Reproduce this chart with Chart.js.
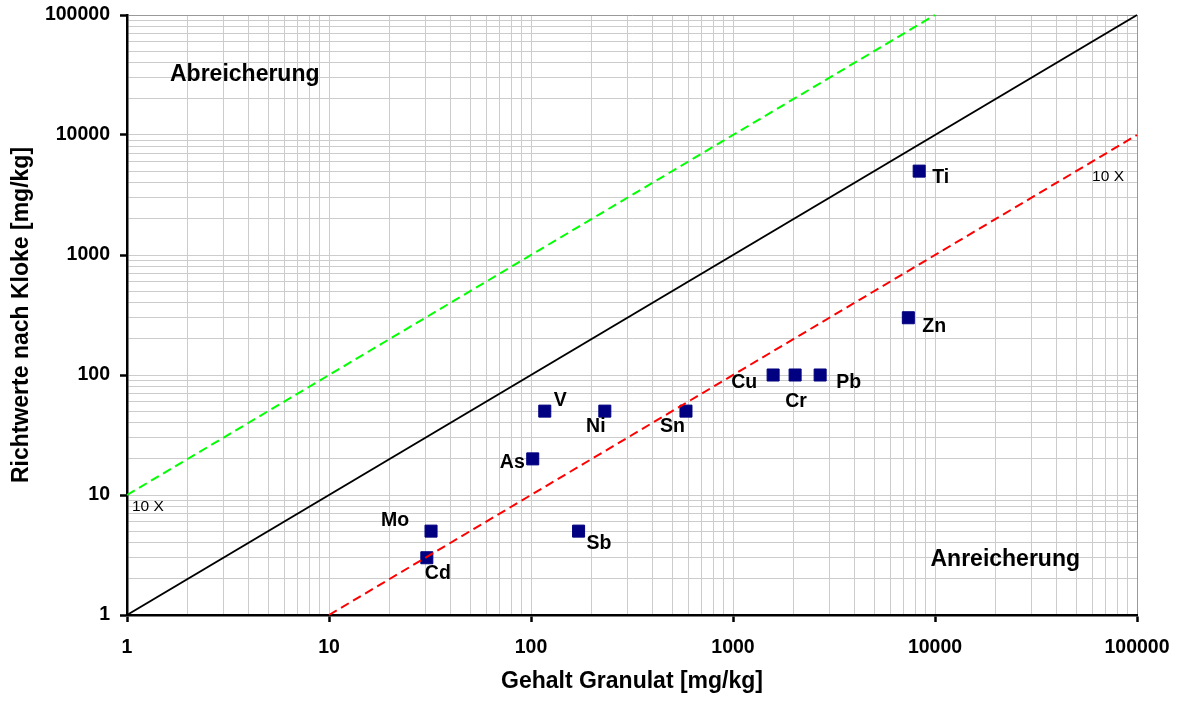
<!DOCTYPE html>
<html>
<head>
<meta charset="utf-8">
<script src="https://cdn.jsdelivr.net/npm/chart.js@4"></script>
<style>
  html, body { margin: 0; padding: 0; background: #fff; }
  #wrap { width: 1179px; height: 701px; }
</style>
</head>
<body>
<div id="wrap"><canvas id="klokeChart" width="1179" height="701"></canvas></div>
<script>
// Elemente: Gehalt im Granulat gegen Richtwerte nach Kloke
const elemente = ["Cd", "Mo", "As", "V", "Sb", "Ni", "Sn", "Cu", "Cr", "Pb", "Zn", "Ti"];
const gehaltGranulat = [30.5, 32, 102, 117, 172, 232, 585, 1580, 2030, 2700, 7380, 8350];
const richtwerteKloke = [3, 5, 20, 50, 5, 50, 50, 100, 100, 100, 300, 5000];

// Dekaden der beiden Achsen
const xTickLabels = ["1", "10", "100", "1000", "10000", "100000"];
const yTickLabels = ["1", "10", "100", "1000", "10000", "100000"];

// Vergleichslinien: 1:1 sowie Faktor 10 nach oben / unten
const linieGleichX = [1, 100000];
const linieGleichY = [1, 100000];
const linieGruenX = [1, 10000];
const linieGruenY = [10, 100000];
const linieRotX = [10, 100000];
const linieRotY = [1, 10000];

const schrift = "'Liberation Sans', Arial, sans-serif";

// Versatz der Elementbeschriftung zum Marker [dx, dy, Ausrichtung]
const labelPos = {
  Cd: [-2, 16, "left"],
  Mo: [-22, -10, "right"],
  As: [-8, 4, "right"],
  V: [9, -10, "left"],
  Sb: [8, 13, "left"],
  Ni: [-9, 16, "center"],
  Sn: [-1, 16, "right"],
  Cu: [-16, 8, "right"],
  Cr: [1, 27, "center"],
  Pb: [16, 8, "left"],
  Zn: [14, 9, "left"],
  Ti: [13, 7, "left"],
};

const punkte = (xs, ys) => xs.map((x, i) => ({ x: x, y: ys[i] }));

// Logarithmische Achse mit Nebenlinien 2..9 je Dekade
function logAchse(labels, titel, achse) {
  const dekaden = labels.map(Number);
  const maxWert = dekaden[dekaden.length - 1];
  return {
    type: "logarithmic",
    min: dekaden[0],
    max: maxWert,
    afterBuildTicks(scale) {
      const werte = [];
      dekaden.forEach((d, i) => {
        if (i === dekaden.length - 1) {
          werte.push(d);
          return;
        }
        for (let m = 1; m < 10; m++) werte.push(d * m);
      });
      scale.ticks = werte.map((v) => ({ value: v, major: dekaden.includes(v) }));
    },
    afterFit(scale) {
      // feste Achsenbreite, Randabstand kommt allein aus layout.padding
      if (achse === "x") scale.height = 86;
      else scale.width = 127;
      scale.paddingTop = 0;
      scale.paddingBottom = 0;
      scale.paddingLeft = 0;
      scale.paddingRight = 0;
    },
    ticks: {
      autoSkip: false,
      maxRotation: 0,
      color: "#000",
      padding: achse === "x" ? 14 : 10,
      font: { family: schrift, size: 19.5, weight: "bold" },
      callback: (v) => {
        const i = dekaden.indexOf(v);
        return i >= 0 ? labels[i] : "";
      },
    },
    grid: {
      color: (ctx) => (ctx.tick && ctx.tick.value === maxWert ? "#999999" : "#cccccc"),
      lineWidth: 1,
      tickLength: 7,
      tickWidth: 2.5,
      tickColor: (ctx) => (ctx.tick && dekaden.includes(ctx.tick.value) ? "#000" : "rgba(0,0,0,0)"),
    },
    border: { display: true, color: "#000", width: 2.5 },
    title: {
      display: true,
      text: titel,
      color: "#000",
      font: { family: schrift, size: 23, weight: "bold" },
      padding: achse === "x" ? { top: 0, bottom: 6 } : { top: 8, bottom: 0 },
    },
  };
}

// Beschriftungen im Diagramm
const beschriftung = {
  id: "beschriftung",
  afterDatasetsDraw(chart) {
    const { ctx, chartArea, scales: { x, y } } = chart;
    ctx.save();
    ctx.fillStyle = "#000";
    ctx.textBaseline = "middle";

    ctx.font = "bold 19.5px " + schrift;
    elemente.forEach((el, i) => {
      const [dx, dy, align] = labelPos[el];
      ctx.textAlign = align;
      ctx.fillText(el, x.getPixelForValue(gehaltGranulat[i]) + dx, y.getPixelForValue(richtwerteKloke[i]) + dy);
    });

    ctx.font = "bold 23px " + schrift;
    ctx.textAlign = "left";
    ctx.fillText("Abreicherung", chartArea.left + 43, chartArea.top + 60);
    ctx.textAlign = "right";
    ctx.fillText("Anreicherung", chartArea.right - 57, chartArea.bottom - 55);

    ctx.font = "15.5px " + schrift;
    ctx.textAlign = "left";
    ctx.fillText("10 X", x.getPixelForValue(linieGruenX[0]) + 5, y.getPixelForValue(linieGruenY[0]) + 12);
    ctx.textAlign = "right";
    ctx.fillText("10 X", x.getPixelForValue(linieRotX[1]) - 13, y.getPixelForValue(linieRotY[1]) + 42);
    ctx.restore();
  },
};

const klokeChart = new Chart(document.getElementById("klokeChart"), {
  type: "scatter",
  data: {
    datasets: [
      {
        label: "1:1",
        data: punkte(linieGleichX, linieGleichY),
        showLine: true,
        borderColor: "#000",
        borderWidth: 2,
        pointRadius: 0,
        clip: false,
      },
      {
        label: "Faktor 10 oben",
        data: punkte(linieGruenX, linieGruenY),
        showLine: true,
        borderColor: "#00ff00",
        borderDash: [9, 5],
        borderWidth: 2,
        pointRadius: 0,
        clip: false,
      },
      {
        label: "Faktor 10 unten",
        data: punkte(linieRotX, linieRotY),
        showLine: true,
        borderColor: "#ff0000",
        borderDash: [9, 5],
        borderWidth: 2,
        pointRadius: 0,
        clip: false,
      },
      {
        label: "Elemente",
        data: punkte(gehaltGranulat, richtwerteKloke),
        pointStyle: "rect",
        pointRadius: 8.5,
        backgroundColor: "#000080",
        borderColor: "#000080",
        borderWidth: 1,
      },
    ],
  },
  options: {
    responsive: false,
    animation: false,
    layout: { padding: { top: 15, right: 42, bottom: 0, left: 0 } },
    plugins: {
      legend: { display: false },
      tooltip: { enabled: false },
    },
    scales: {
      x: logAchse(xTickLabels, "Gehalt Granulat [mg/kg]", "x"),
      y: logAchse(yTickLabels, "Richtwerte nach Kloke [mg/kg]", "y"),
    },
  },
  plugins: [beschriftung],
});
</script>
</body>
</html>
